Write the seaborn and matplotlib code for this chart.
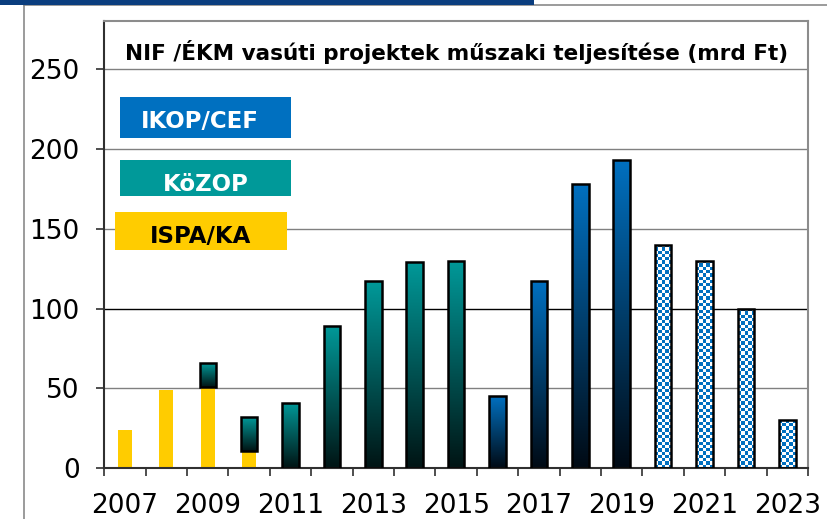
import numpy as np
import matplotlib
matplotlib.use("Agg")
import matplotlib.pyplot as plt
import seaborn as sns
from matplotlib.patches import Rectangle
from matplotlib.lines import Line2D
from matplotlib.colors import to_rgb

# ---------------- data ----------------
years = [str(y) for y in range(2007, 2024)]

ispa_years = ["2007", "2008", "2009", "2010"]
ispa_vals = [24, 49, 51, 11]

kozop_years = ["2009", "2010", "2011", "2012", "2013", "2014", "2015"]
kozop_vals = [15, 21, 41, 89, 117, 129, 130]
kozop_base = [51, 11, 0, 0, 0, 0, 0]

ikop_years = ["2016", "2017", "2018", "2019"]
ikop_vals = [45, 117, 178, 193]

plan_years = ["2020", "2021", "2022", "2023"]
plan_vals = [140, 130, 100, 30]

y_ticks = [0, 50, 100, 150, 200, 250]
x_labels = [y if (int(y) - 2007) % 2 == 0 else "" for y in years]

title = "NIF /ÉKM vasúti projektek műszaki teljesítése (mrd Ft)"
legend_labels = ["IKOP/CEF", "KöZOP", "ISPA/KA"]

# ---------------- style ----------------
YELLOW = "#FFCC00"
TEAL = "#009999"
TEAL_DARK = "#001414"
BLUE = "#0070C0"
BLUE_DARK = "#000A14"

sns.set_style("white")
plt.rcParams["font.family"] = ["DejaVu Sans"]

W, H = 828, 519
fig = plt.figure(figsize=(W / 100, H / 100), dpi=100)
ax = fig.add_axes([104.3 / W, (H - 468.3) / H, 703.7 / W, 447.3 / H])

YMAX = 280


def gradient_fill(patch, top_color, bottom_color, z=2.5):
    x0, y0 = patch.get_x(), patch.get_y()
    w, h = patch.get_width(), patch.get_height()
    t = np.linspace(0, 1, 256)[:, None]
    top = np.array(to_rgb(top_color))
    bot = np.array(to_rgb(bottom_color))
    img = (bot + (top - bot) * t)[:, None, :]
    im = ax.imshow(img, extent=[x0, x0 + w, y0, y0 + h], origin="lower",
                   aspect="auto", interpolation="bilinear", zorder=z)
    im.set_clip_path(patch)
    patch.set_facecolor("none")
    patch.set_zorder(z + 0.1)


def checker_fill(patch, color, cell_px=3.3, z=2.5):
    x0, y0 = patch.get_x(), patch.get_y()
    w, h = patch.get_width(), patch.get_height()
    p0 = ax.transData.transform((x0, y0))
    p1 = ax.transData.transform((x0 + w, y0 + h))
    ncol = max(1, int(round((p1[0] - p0[0]) / cell_px)))
    nrow = max(1, int(round((p1[1] - p0[1]) / cell_px)))
    ii, jj = np.meshgrid(np.arange(ncol), np.arange(nrow))
    mask = ((ii + jj) % 2 == 0)[..., None]
    c = np.array(to_rgb(color))
    white = np.ones(3)
    img = np.where(mask, c, white)
    im = ax.imshow(img, extent=[x0, x0 + w, y0, y0 + h], origin="lower",
                   aspect="auto", interpolation="nearest", zorder=z)
    im.set_clip_path(patch)
    patch.set_facecolor("none")
    patch.set_zorder(z + 0.1)


# ISPA/KA (yellow, no edge)
sns.barplot(x=ispa_years, y=ispa_vals, order=years, color=YELLOW, saturation=1,
            width=0.34, errorbar=None, linewidth=0, ax=ax, zorder=2)
n0 = len(ax.patches)

# KöZOP (teal gradient, stacked on ISPA)
sns.barplot(x=kozop_years, y=kozop_vals, order=years, color=TEAL, saturation=1,
            width=0.40, errorbar=None, bottom=kozop_base, edgecolor="black",
            linewidth=1.8, ax=ax)
n1 = len(ax.patches)

# IKOP/CEF (blue gradient)
sns.barplot(x=ikop_years, y=ikop_vals, order=years, color=BLUE, saturation=1,
            width=0.40, errorbar=None, edgecolor="black", linewidth=1.8, ax=ax)
n2 = len(ax.patches)

# planned (checkered)
sns.barplot(x=plan_years, y=plan_vals, order=years, color=BLUE, saturation=1,
            width=0.40, errorbar=None, edgecolor="black", linewidth=1.8, ax=ax)
n3 = len(ax.patches)

ax.set_xlim(-0.5, len(years) - 0.5)
ax.set_ylim(0, YMAX)

patches = list(ax.patches)
for p in patches[n0:n1]:
    gradient_fill(p, TEAL, TEAL_DARK)
for p in patches[n1:n2]:
    gradient_fill(p, BLUE, BLUE_DARK)
for p in patches[n2:n3]:
    checker_fill(p, BLUE)

ax.set_xlim(-0.5, len(years) - 0.5)
ax.set_ylim(0, YMAX)

# axes / ticks
ax.set_xlabel("")
ax.set_ylabel("")
ax.set_yticks(y_ticks)
ax.set_yticklabels([str(v) for v in y_ticks])
ax.set_xticks(range(len(years)))
ax.set_xticklabels(x_labels)
ax.set_xticks(np.arange(-0.5, len(years), 1.0), minor=True)
ax.tick_params(axis="x", which="major", length=0, pad=17.5, labelsize=19,
               labelcolor="black")
ax.tick_params(axis="x", which="minor", length=5.8, width=1.2, color="#303030",
               direction="out", bottom=True)
ax.tick_params(axis="y", which="major", length=5.8, width=1.2, color="#303030",
               direction="out", left=True, pad=12, labelsize=19, labelcolor="black")

ax.yaxis.grid(True, color="#808080", linewidth=1.0)
ax.xaxis.grid(False)
ax.set_axisbelow(True)
for val, gl in zip(ax.get_yticks(), ax.yaxis.get_gridlines()):
    if val == 100:
        gl.set_color("black")

for side in ["left", "bottom"]:
    ax.spines[side].set_color("#303030")
    ax.spines[side].set_linewidth(1.5)
for side in ["top", "right"]:
    ax.spines[side].set_color("#8c8c8c")
    ax.spines[side].set_linewidth(1.5)
    ax.spines[side].set_visible(True)

# title inside plot area
ax.text(0.5, 0.9128, title, transform=ax.transAxes, ha="center", va="baseline",
        fontsize=15.5, fontweight="bold", color="black")

# legend-like colored boxes
boxes = [
    (legend_labels[0], BLUE, "white", (0.0223, 0.7391, 0.2426, 0.0917), (0.1353, 0.7601)),
    (legend_labels[1], TEAL, "white", (0.0223, 0.6094, 0.2426, 0.0799), (0.1439, 0.6206)),
    (legend_labels[2], YELLOW, "black", (0.0152, 0.488, 0.2440, 0.085), (0.1374, 0.503)),
]
for label, fc, tc, (bx, by, bw, bh), (tx, ty) in boxes:
    ax.add_patch(Rectangle((bx, by), bw, bh, transform=ax.transAxes,
                           facecolor=fc, edgecolor="none", zorder=5))
    ax.text(tx, ty, label, transform=ax.transAxes, ha="center", va="baseline",
            fontsize=16.5, fontweight="bold", color=tc, zorder=6)

# outer decorations (slide frame)
fig.patches.append(Rectangle((0, (H - 4.5) / H), 534 / W, 4.5 / H,
                             transform=fig.transFigure, facecolor="#0a3d7e",
                             edgecolor="none", zorder=10))
fig.lines.append(Line2D([24.3 / W, 24.3 / W], [0, (H - 4.7) / H],
                        transform=fig.transFigure, color="#808080", linewidth=1.1))
fig.lines.append(Line2D([24.3 / W, 1.0], [(H - 4.7) / H, (H - 4.7) / H],
                        transform=fig.transFigure, color="#808080", linewidth=1.1))

fig.savefig("out.png", dpi=100)
